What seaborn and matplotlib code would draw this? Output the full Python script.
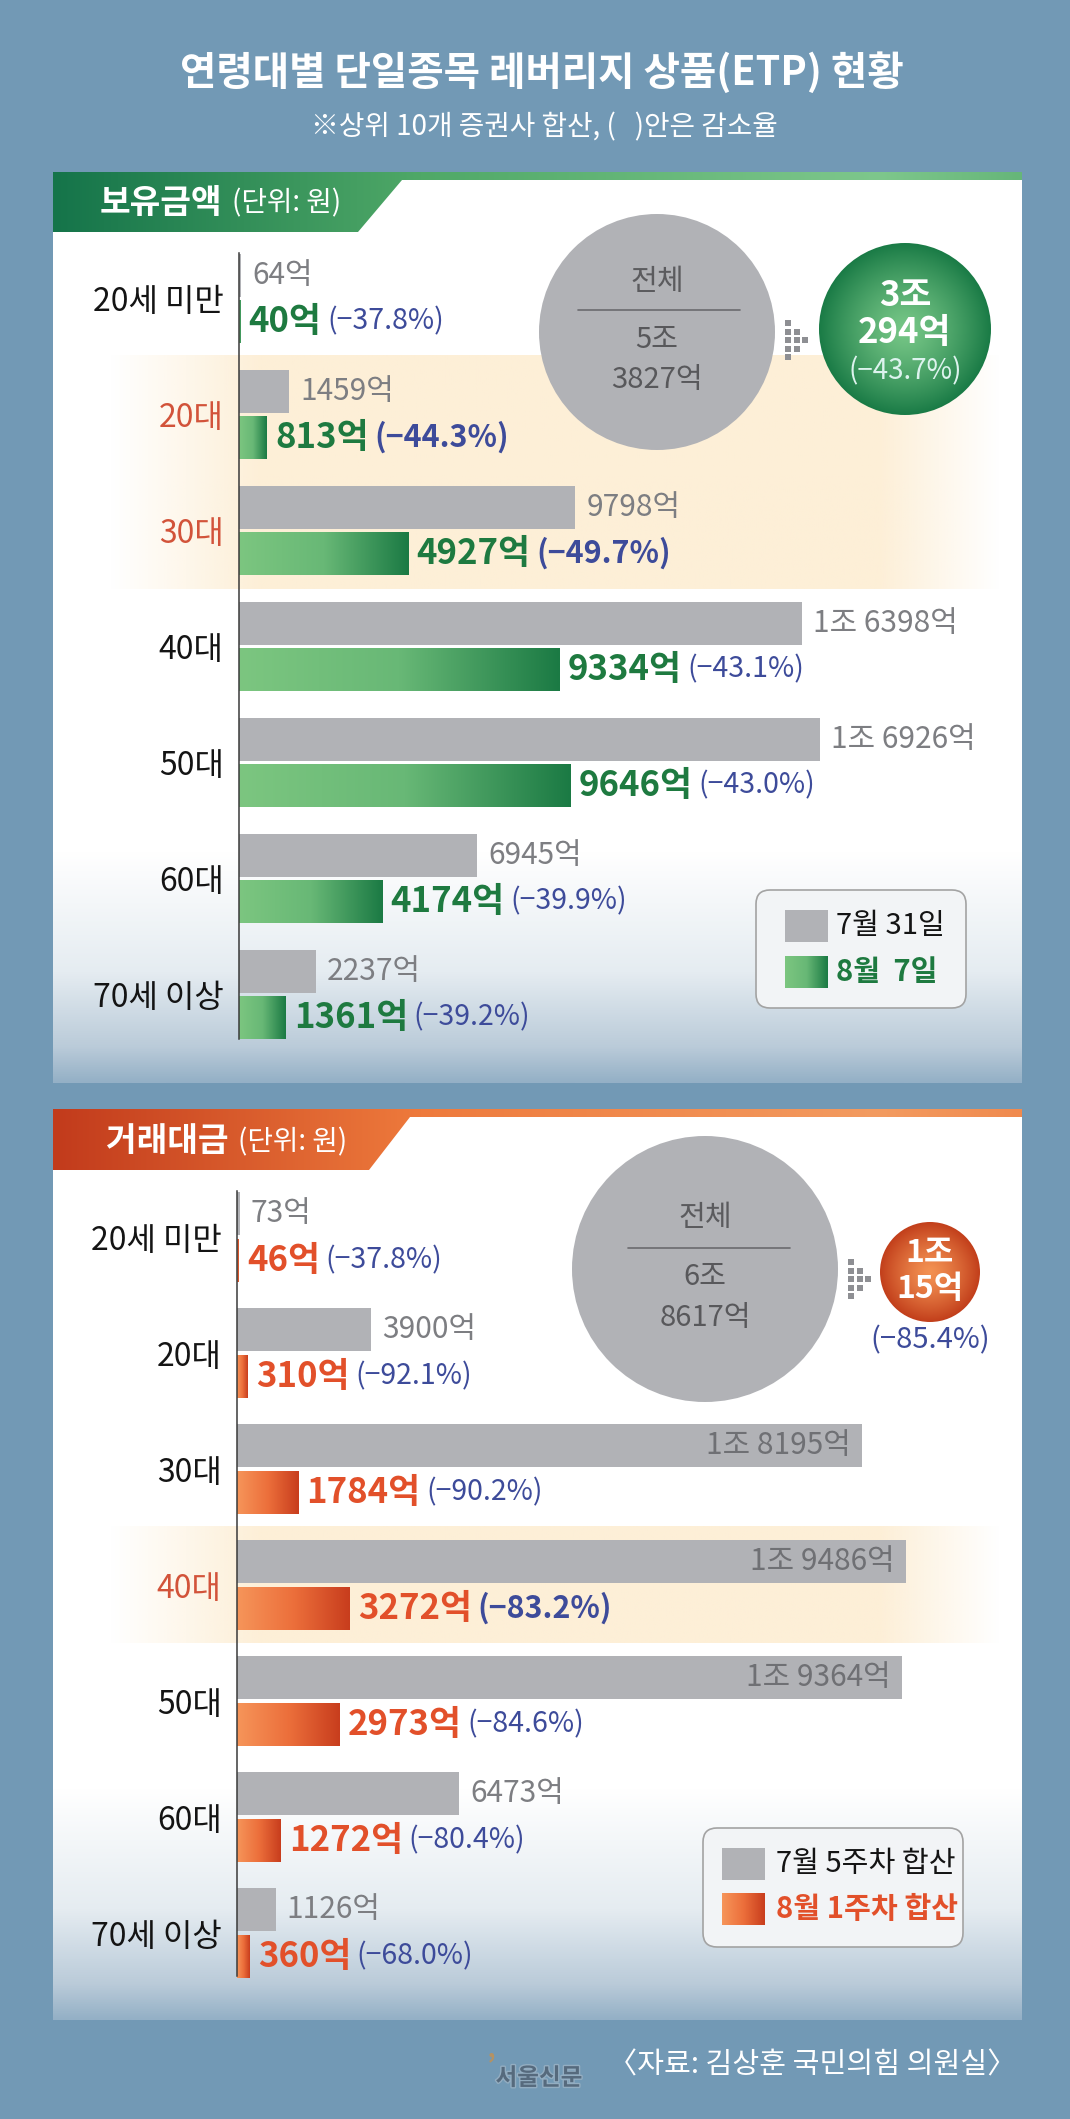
import numpy as np
import pandas as pd
import seaborn as sns
import matplotlib.pyplot as plt
import matplotlib.patheffects as pe
from matplotlib.colors import LinearSegmentedColormap, to_rgb
from matplotlib.patches import Polygon, Circle, FancyBboxPatch, Rectangle

sns.set_theme(style='white')
plt.rcParams['font.family'] = ['Noto Sans CJK KR', 'DejaVu Sans']

# ---- data ----
ages = ['20세 미만', '20대', '30대', '40대', '50대', '60대', '70세 이상']

hold_before = [64, 1459, 9798, 16398, 16926, 6945, 2237]
hold_after = [40, 813, 4927, 9334, 9646, 4174, 1361]
hold_pct = [-37.8, -44.3, -49.7, -43.1, -43.0, -39.9, -39.2]
hold_total = [53827, 30294]
hold_total_pct = -43.7
hold_focus = ['20대', '30대']
hold_periods = ['7월 31일', '8월  7일']

trade_before = [73, 3900, 18195, 19486, 19364, 6473, 1126]
trade_after = [46, 310, 1784, 3272, 2973, 1272, 360]
trade_pct = [-37.8, -92.1, -90.2, -83.2, -84.6, -80.4, -68.0]
trade_total = [68617, 10015]
trade_total_pct = -85.4
trade_focus = ['40대']
trade_periods = ['7월 5주차 합산', '8월 1주차 합산']

W, H = 1070, 2119
BG = '#7299B5'
GRAY = '#B1B2B6'
NAVY = '#3D4B9A'
GREEN_TXT = '#1E7A40'
ORANGE_TXT = '#E2502A'
FOCUS_TXT = '#D2533A'


def eok(v):
    jo, rest = divmod(v, 10000)
    return f'{jo}조 {rest}억' if jo else f'{rest}억'


def pct_txt(p):
    return f'(−{abs(p):.1f}%)'


def rect(left, top, right, bottom):
    return [left / W, 1 - bottom / H, (right - left) / W, (bottom - top) / H]


def vgrad(y0, y1, stops, n=400):
    ys = np.linspace(y0, y1, n)
    cols = np.stack([np.interp(ys, [s[0] for s in stops], [to_rgb(s[1])[k] for s in stops])
                     for k in range(3)], axis=1)
    return cols[:, None, :]


def hgrad(x0, x1, stops, n=400):
    return vgrad(x0, x1, stops, n).transpose(1, 0, 2)


def radial(c_in, c_out, n=200):
    yy, xx = np.mgrid[-1:1:n * 1j, -1:1:n * 1j]
    r = np.clip(np.hypot(xx, yy), 0, 1) ** 1.3
    a, b = np.array(to_rgb(c_in)), np.array(to_rgb(c_out))
    return a + (b - a) * r[..., None]


fig = plt.figure(figsize=(W / 100, H / 100), dpi=100, facecolor=BG)

bg = fig.add_axes([0, 0, 1, 1], zorder=0)
bg.set_xlim(0, W)
bg.set_ylim(H, 0)
bg.axis('off')


def panel(top, bottom, head_top, head_bot, tab_xt, tab_xb, head_stops, band):
    bg.imshow(vgrad(top, bottom, [(top, '#FFFFFF'), (bottom - 230, '#FFFFFF'),
                                  (bottom - 110, '#E5ECF1'), (bottom - 35, '#BACBD9'),
                                  (bottom, '#94B0C6')]),
              extent=(53, 1022, bottom, top), aspect='auto', zorder=1)
    # highlight band with soft horizontal edges
    y0, y1 = band
    xs = np.linspace(53, 1022, 500)
    alpha = np.interp(xs, [53, 110, 260, 880, 1000, 1022], [0, 0, 1, 1, 0, 0])
    img = np.zeros((1, 500, 4))
    img[..., :3] = to_rgb('#FDEFD7')
    img[..., 3] = alpha
    bg.imshow(img, extent=(53, 1022, y1, y0), aspect='auto', zorder=2)
    # header strip + tab
    poly = Polygon([(53, top), (1022, top), (1022, head_top), (tab_xt, head_top),
                    (tab_xb, head_bot), (53, head_bot)], closed=True, fc='none', ec='none')
    bg.add_patch(poly)
    im = bg.imshow(hgrad(53, 1022, head_stops), extent=(53, 1022, head_bot, top),
                   aspect='auto', zorder=3)
    im.set_clip_path(poly)


panel(172, 1083, 180, 232, 402, 358,
      [(53, '#15744A'), (420, '#4FA867'), (880, '#7EC78C'), (1022, '#66B679')],
      (355, 589))
panel(1109, 2020, 1117, 1170, 410, 369,
      [(53, '#C23B1C'), (420, '#EE7A3C'), (880, '#F39B60'), (1022, '#F08A4E')],
      (1526, 1643))
bg.set_xlim(0, W)
bg.set_ylim(H, 0)

green_cmap = LinearSegmentedColormap.from_list('g', ['#7CC680', '#68B876', '#1B7A44'])
orange_cmap = LinearSegmentedColormap.from_list('o', ['#F6955A', '#EC6F3B', '#C83D1D'])
ramp = np.linspace(0, 1, 256)[None, :]

XMAX = 22168


def bars(ax_rect, before, after, pcts, periods, focus, cmap, accent, spine):
    ax = fig.add_axes(ax_rect, zorder=1)
    ax.set_facecolor('none')
    df = pd.DataFrame({
        'age': ages * 2,
        'value': before + after,
        'period': [periods[0]] * len(ages) + [periods[1]] * len(ages),
    })
    sns.barplot(data=df, y='age', x='value', hue='period', order=ages, hue_order=periods,
                orient='h', palette=[GRAY, accent], saturation=1, width=0.8,
                legend=False, ax=ax, linewidth=0, errorbar=None)
    for cont in ax.containers:
        for b in cont:
            cy = b.get_y() + b.get_height() / 2
            b.set_y(cy - 0.185)
            b.set_height(0.37)
    for b in ax.containers[1]:
        x0, y0, w, h = b.get_x(), b.get_y(), b.get_width(), b.get_height()
        b.set_facecolor('none')
        ax.imshow(ramp, cmap=cmap, extent=(x0, x0 + w, y0 + h, y0), aspect='auto', zorder=2)

    for i in range(len(ages)):
        gb, cb = ax.containers[0][i], ax.containers[1][i]
        gy = gb.get_y() + gb.get_height() / 2
        cy = cb.get_y() + cb.get_height() / 2
        g, c = before[i], after[i]
        if g > 17500:
            ax.annotate(eok(g), (g, gy), xytext=(-8, 0), textcoords='offset points',
                        ha='right', va='center', color='#6F7074', fontsize=21.5)
        else:
            ax.annotate(eok(g), (g, gy), xytext=(8, 0), textcoords='offset points',
                        ha='left', va='center', color='#7D7E82', fontsize=21.5)
        t = ax.annotate(eok(c), (c, cy), xytext=(6, 0), textcoords='offset points',
                        ha='left', va='center', color=accent,
                        fontsize=25, fontweight='bold')
        hi = ages[i] in focus
        ax.annotate(pct_txt(pcts[i]), xy=(1, 0.5), xycoords=t, xytext=(4, 0),
                    textcoords='offset points', ha='left', va='center', color=NAVY,
                    fontsize=22 if hi else 20.5, fontweight='bold' if hi else 'normal')

    ax.set_xlim(0, XMAX)
    ax.set_ylim(6.5, -0.5)
    ax.set_xticks([])
    ax.set_xlabel('')
    ax.set_ylabel('')
    for s in ['top', 'right', 'bottom']:
        ax.spines[s].set_visible(False)
    ax.spines['left'].set_bounds(*spine)
    ax.spines['left'].set_color('#3A3A3A')
    ax.spines['left'].set_linewidth(1.1)
    ax.tick_params(axis='y', length=0, pad=11, labelsize=23, labelcolor='#141414')
    for lab in ax.get_yticklabels():
        if lab.get_text() in focus:
            lab.set_color(FOCUS_TXT)
    return ax


bars(rect(239, 240.5, 1000, 1052.5), hold_before, hold_after, hold_pct, hold_periods,
     hold_focus, green_cmap, GREEN_TXT, (-0.39, 6.38))
bars(rect(237, 1179, 998, 1991), trade_before, trade_after, trade_pct, trade_periods,
     trade_focus, orange_cmap, ORANGE_TXT, (-0.4, 6.37))

# ---- foreground decorations ----
fg = fig.add_axes([0, 0, 1, 1], zorder=2)
fg.set_facecolor('none')
fg.set_xlim(0, W)
fg.set_ylim(H, 0)
fg.axis('off')

fg.text(542, 73, '연령대별 단일종목 레버리지 상품(ETP) 현황', ha='center', va='center',
        color='white', fontsize=28.5, fontweight='bold')
fg.text(544, 127, '※상위 10개 증권사 합산, (   )안은 감소율', ha='center', va='center',
        color='white', fontsize=20)

for x, y, name in [(100, 203, '보유금액'), (106, 1142, '거래대금')]:
    t = fg.text(x, y, name, ha='left', va='center', color='white', fontsize=24, fontweight='bold')
    fg.annotate('(단위: 원)', xy=(1, 0.5), xycoords=t, xytext=(7, 0), textcoords='offset points',
                ha='left', va='center', color='white', fontsize=20)


def totals(cx, cy, r, total, pct, line_y, line_x, sub_cx, sub_cy, sub_r,
           c_in, c_out, arrow_x, arrow_y, pct_inside, sub_fs, ys):
    fg.add_patch(Circle((cx, cy), r, fc=GRAY, ec='none', zorder=2))
    fg.text(cx, ys[0], '전체', ha='center', va='center', color='#5B5B5E', fontsize=21, zorder=3)
    fg.plot(line_x, [line_y, line_y], color='#6B6B6E', lw=1.2, zorder=3)
    a, b = eok(total[0]).split(' ')
    fg.text(cx, ys[1], a, ha='center', va='center', color='#58585B', fontsize=21, zorder=3)
    fg.text(cx, ys[2], b, ha='center', va='center', color='#58585B', fontsize=21, zorder=3)

    circ = Circle((sub_cx, sub_cy), sub_r, fc='none', ec='none', zorder=2)
    fg.add_patch(circ)
    im = fg.imshow(radial(c_in, c_out), extent=(sub_cx - sub_r, sub_cx + sub_r,
                                                  sub_cy + sub_r, sub_cy - sub_r),
                   aspect='auto', zorder=2)
    im.set_clip_path(circ)
    a, b = eok(total[1]).split(' ')
    if pct_inside:
        fg.text(sub_cx, sub_cy - 34, a, ha='center', va='center', color='white',
                fontsize=sub_fs, fontweight='bold', zorder=3)
        fg.text(sub_cx, sub_cy + 3, b, ha='center', va='center', color='white',
                fontsize=sub_fs, fontweight='bold', zorder=3)
        fg.text(sub_cx, sub_cy + 42, pct_txt(pct), ha='center', va='center', color='#DDF3EE',
                fontsize=20, zorder=3)
    else:
        fg.text(sub_cx, sub_cy - 19, a, ha='center', va='center', color='white',
                fontsize=sub_fs, fontweight='bold', zorder=3)
        fg.text(sub_cx, sub_cy + 17, b, ha='center', va='center', color='white',
                fontsize=sub_fs, fontweight='bold', zorder=3)
        fg.text(sub_cx, sub_cy + 68, pct_txt(pct), ha='center', va='center', color=NAVY,
                fontsize=21, zorder=3)
    # little dotted arrow
    px, py = [], []
    for col, rows in enumerate([[-2, -1, 0, 1, 2], [-1, 0, 1], [0]]):
        for rr in rows:
            px.append(arrow_x + col * 8.5)
            py.append(arrow_y + rr * 8.5)
    fg.scatter(px, py, marker='s', s=22, color='#8E8F93', linewidths=0, zorder=3)


totals(657, 332, 118, hold_total, hold_total_pct, 310, [578, 740], 905, 329, 86,
       '#76C686', '#1A7B46', 788, 340, True, 25, [282, 340, 380])
totals(705, 1269, 133, trade_total, trade_total_pct, 1248, [628, 790], 930, 1272, 50,
       '#F39152', '#C23F1B', 851, 1279, False, 23, [1218, 1277, 1318])


def legend(box, sw_x, sw_y1, sw_y2, txt_x, labels, cmap, accent):
    x0, y0, x1, y1 = box
    fg.add_patch(FancyBboxPatch((x0, y0), x1 - x0, y1 - y0,
                                boxstyle='round,pad=0,rounding_size=14',
                                fc='#F2F4F6', ec='#A3A3A3', lw=1.2, zorder=2))
    fg.add_patch(Rectangle((sw_x, sw_y1[0]), 43, sw_y1[1] - sw_y1[0], fc=GRAY, ec='none', zorder=3))
    fg.imshow(ramp, cmap=cmap, extent=(sw_x, sw_x + 43, sw_y2[1], sw_y2[0]),
              aspect='auto', zorder=3)
    fg.text(txt_x, sum(sw_y1) / 2, labels[0], ha='left', va='center', color='#141414',
            fontsize=21, zorder=3)
    fg.text(txt_x, sum(sw_y2) / 2, labels[1], ha='left', va='center', color=accent,
            fontsize=21, fontweight='bold', zorder=3)


legend((756, 890, 966, 1008), 785, (910, 942), (956, 988), 836, hold_periods,
       green_cmap, GREEN_TXT)
legend((703, 1828, 963, 1947), 722, (1848, 1880), (1893, 1925), 776, trade_periods,
       orange_cmap, ORANGE_TXT)

fg.text(1016, 2065, '〈자료: 김상훈 국민의힘 의원실〉', ha='right', va='center',
        color='white', fontsize=21)
fg.text(539, 2078, '서울신문', ha='center', va='center', color='#566A7D',
        fontsize=17, fontweight='bold',
        path_effects=[pe.withStroke(linewidth=2, foreground='#93ADC1')])
fg.text(491, 2066, '’', ha='center', va='center', color='#B49264',
        fontsize=20, fontweight='bold')

fg.set_xlim(0, W)
fg.set_ylim(H, 0)

fig.savefig('out.png', dpi=100, facecolor=BG)
